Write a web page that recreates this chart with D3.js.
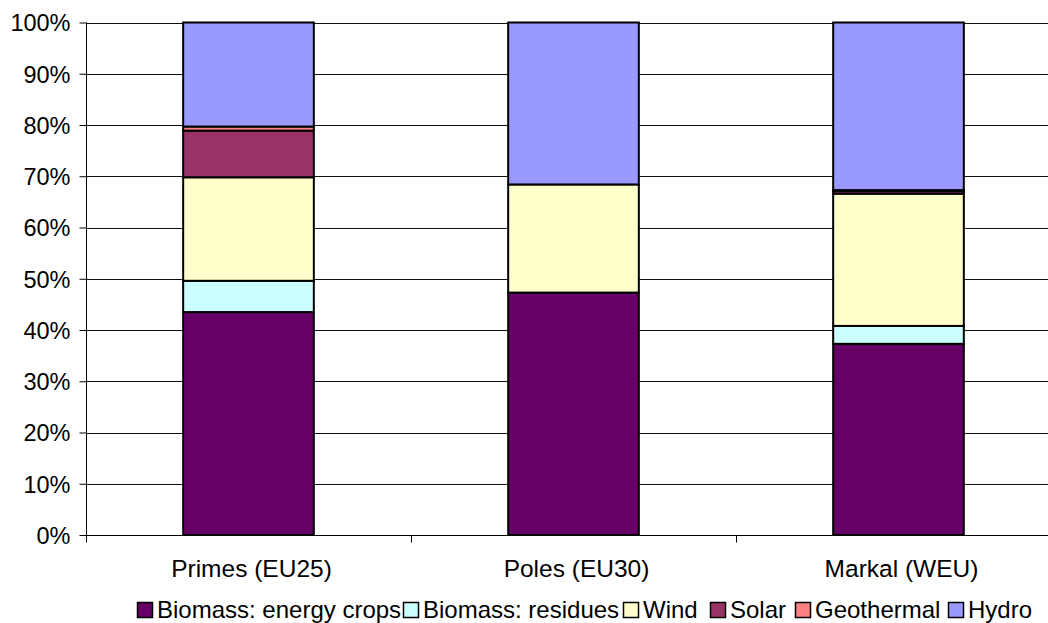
<!DOCTYPE html>
<html>
<head>
<meta charset="utf-8">
<script src="https://cdn.jsdelivr.net/npm/d3@7"></script>
<style>
  html, body { margin: 0; padding: 0; background: #fff; }
  svg { display: block; font-family: "Liberation Sans", Arial, sans-serif; }
</style>
</head>
<body>
<svg id="chart" width="1048" height="623"></svg>
<script>
const categories = ["Primes (EU25)", "Poles (EU30)", "Markal (WEU)"];
const seriesNames = ["Biomass: energy crops", "Biomass: residues", "Wind", "Solar", "Geothermal", "Hydro"];
const seriesColors = ["#660066", "#CCFFFF", "#FFFFCC", "#993366", "#FF8080", "#9999FF"];
const energyCrops = [43.5, 47.3, 37.3];
const residues    = [6.1, 0, 3.5];
const wind        = [20.2, 21.1, 25.8];
const solar       = [9.1, 0, 0.5];
const geothermal  = [0.8, 0, 0.2];
const hydro       = [20.3, 31.6, 32.7];
const yTicks = [0, 10, 20, 30, 40, 50, 60, 70, 80, 90, 100];
const tickLabels = ["0%", "10%", "20%", "30%", "40%", "50%", "60%", "70%", "80%", "90%", "100%"];

const seriesValues = [energyCrops, residues, wind, solar, geothermal, hydro];

(function () {
const svg = d3.select("#chart");
const pLeft = 86, pRight = 1061, pTop = 22.5, pBottom = 535;

const x = d3.scaleBand().domain(categories).range([pLeft, pRight]).padding(0);
const y = d3.scaleLinear().domain([0, 100]).range([pBottom, pTop]);
const barW = x.bandwidth() * 0.402;

// gridlines
svg.append("g").selectAll("line").data(yTicks.slice(1)).join("line")
  .attr("x1", pLeft).attr("x2", pRight)
  .attr("y1", d => Math.round(y(d)) + 0.5).attr("y2", d => Math.round(y(d)) + 0.5)
  .attr("stroke", "#111").attr("stroke-width", 1);

// stacked data
const rows = categories.map((c, i) => {
  const o = { cat: c };
  seriesNames.forEach((s, j) => o[s] = seriesValues[j][i]);
  return o;
});
const stack = d3.stack().keys(seriesNames)(rows);

const g = svg.append("g");
stack.forEach((layer, j) => {
  g.selectAll(null).data(layer.filter(d => d[1] - d[0] > 0)).join("rect")
    .attr("x", d => x(d.data.cat) + (x.bandwidth() - barW) / 2)
    .attr("width", barW)
    .attr("y", d => y(d[1]))
    .attr("height", d => y(d[0]) - y(d[1]))
    .attr("fill", seriesColors[j])
    .attr("stroke", "#000")
    .attr("stroke-width", 2);
});

// y axis
const yAxis = d3.axisLeft(y).tickValues(yTicks).tickFormat((d, i) => tickLabels[i]).tickSize(7).tickPadding(9);
const ya = svg.append("g").attr("transform", `translate(${pLeft + 0.5},0)`).call(yAxis);
ya.select(".domain").attr("stroke", "#000").attr("d", `M0,${pTop}V${pBottom}`);
ya.selectAll(".tick line").attr("stroke", "#000");
ya.selectAll(".tick text").attr("font-size", "23.5px").attr("fill", "#000")
  .attr("font-family", "Liberation Sans, Arial, sans-serif").attr("dy", "0.36em");

// x axis
const xa = svg.append("g").attr("transform", `translate(0,${pBottom + 0.5})`);
xa.append("line").attr("x1", pLeft).attr("x2", pRight).attr("stroke", "#000");
const bounds = [pLeft].concat(categories.map(c => x(c) + x.bandwidth()));
xa.selectAll("line.tk").data(bounds).join("line").attr("class", "tk")
  .attr("x1", d => Math.round(d) + 0.5).attr("x2", d => Math.round(d) + 0.5)
  .attr("y1", 0).attr("y2", 7).attr("stroke", "#000");
xa.selectAll("text").data(categories).join("text")
  .attr("x", d => x(d) + x.bandwidth() / 2 + 3)
  .attr("y", 41)
  .attr("text-anchor", "middle")
  .attr("font-size", "24.5px")
  .attr("fill", "#000")
  .text(d => d);

// legend
const legendX = [137, 403, 623, 710, 795, 948];
const lg = svg.append("g");
seriesNames.forEach((s, j) => {
  lg.append("rect").attr("x", legendX[j] + 0.5).attr("y", 602.5).attr("width", 15).attr("height", 15)
    .attr("fill", seriesColors[j]).attr("stroke", "#000").attr("stroke-width", 1.5);
  lg.append("text").attr("x", legendX[j] + 20).attr("y", 618)
    .attr("font-size", "24px").attr("fill", "#000").text(s);
});
})();
</script>
</body>
</html>
